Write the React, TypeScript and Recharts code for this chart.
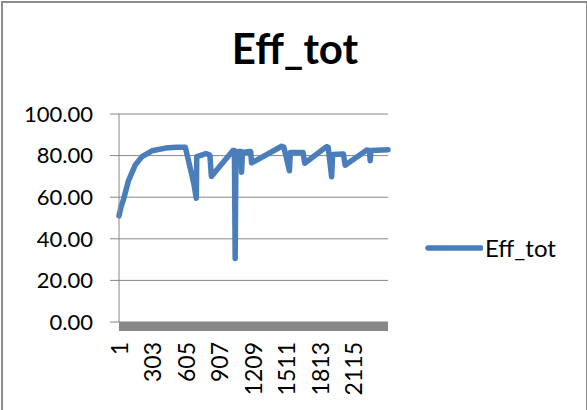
import React from 'react'
import { LineChart, Line, XAxis, YAxis, CartesianGrid, Legend } from 'recharts'

// sample index along the run
const samples = [
  1, 20, 42, 87, 148, 209, 299, 421, 520, 600,
  633, 660, 680, 699,
  703, 760, 784, 814, 822, 835,
  1030, 1043, 1050, 1057,
  1090, 1102, 1108, 1115, 1180,
  1190, 1198, 1470, 1490, 1540, 1548,
  1663, 1678, 1875, 1890, 1921, 1930,
  2027, 2043, 2239, 2262, 2269, 2276, 2430,
]

// Eff_tot at those samples
const effTot = [
  51, 55.5, 59, 68, 75.5, 79.5, 82.3, 83.6, 84, 84,
  76.5, 70.5, 65.5, 59.5,
  79.5, 80.5, 81, 80.5, 80, 70,
  82.5, 82.5, 30.5, 81.5,
  82, 82, 72, 81.5, 82,
  82, 76.5, 84.5, 84, 72.7, 81.5,
  81.5, 76.3, 84.3, 84, 69.8, 80.5,
  80.8, 75.4, 82.7, 82.5, 77.5, 82.5, 82.8,
]

const xTicks = [1, 303, 605, 907, 1209, 1511, 1813, 2115]
const yTicks = [0, 20, 40, 60, 80, 100]

const data = samples.map((s, i) => ({ sample: s, Eff_tot: effTot[i] }))

const FONT = 'Lato, "Open Sans", sans-serif'
const BLUE = '#4a7ebb'
const GREY = '#868686'

const XTick = ({ x, y, payload }: any) => (
  <text
    x={x}
    y={y}
    transform={`rotate(-90, ${x}, ${y})`}
    textAnchor="end"
    dominantBaseline="central"
    fontFamily={FONT}
    fontSize={23}
    fill="#000"
  >
    {payload.value}
  </text>
)

const renderLegend = () => (
  <div style={{ display: 'flex', alignItems: 'center', fontFamily: FONT, fontSize: 24, color: '#000' }}>
    <svg width={58} height={10} style={{ display: 'block' }}>
      <line x1={3} y1={5} x2={56} y2={5} stroke={BLUE} strokeWidth={5.5} strokeLinecap="round" />
    </svg>
    <span style={{ marginLeft: 2 }}>Eff_tot</span>
  </div>
)

export default function App() {
  return (
    <div
      style={{
        position: 'absolute',
        left: 0,
        top: 0,
        width: 587,
        height: 410,
        background: '#fff',
        overflow: 'hidden',
      }}
    >
      <div
        style={{
          position: 'absolute',
          left: 1,
          top: 1,
          width: 583,
          height: 420,
          border: '2px solid #8c8c8c',
        }}
      />
      <div
        style={{
          position: 'absolute',
          left: 0,
          top: 23,
          width: 590,
          textAlign: 'center',
          fontFamily: FONT,
          fontWeight: 700,
          fontSize: 42,
          lineHeight: '50px',
          color: '#000',
        }}
      >
        Eff_tot
      </div>
      <div style={{ position: 'absolute', left: 0, top: 0 }}>
        <LineChart
          width={587}
          height={410}
          data={data}
          margin={{ top: 114, right: 199, bottom: 0, left: 0 }}
        >
          <CartesianGrid vertical={false} stroke={GREY} strokeWidth={1} />
          <XAxis
            dataKey="sample"
            type="number"
            domain={[1, 2430]}
            ticks={xTicks}
            interval={0}
            height={88}
            tickLine={false}
            tickSize={0}
            tickMargin={20}
            tick={<XTick />}
            axisLine={{ stroke: '#878787', strokeWidth: 9, transform: 'translate(0 4.5)' }}
          />
          <YAxis
            domain={[0, 100]}
            ticks={yTicks}
            width={119}
            tickSize={9}
            tickMargin={17}
            tickFormatter={(v: number) => v.toFixed(2)}
            tick={{ fontFamily: FONT, fontSize: 22, fill: '#000' }}
            axisLine={{ stroke: GREY }}
            tickLine={{ stroke: GREY }}
          />
          <Legend
            layout="horizontal"
            verticalAlign="middle"
            align="center"
            content={renderLegend}
            wrapperStyle={{ left: 425, top: 233, width: 150, height: 28, bottom: 'auto', right: 'auto' }}
          />
          <Line
            type="linear"
            dataKey="Eff_tot"
            stroke={BLUE}
            strokeWidth={5.5}
            strokeLinejoin="round"
            strokeLinecap="round"
            dot={false}
            activeDot={false}
            isAnimationActive={false}
          />
        </LineChart>
      </div>
    </div>
  )
}
